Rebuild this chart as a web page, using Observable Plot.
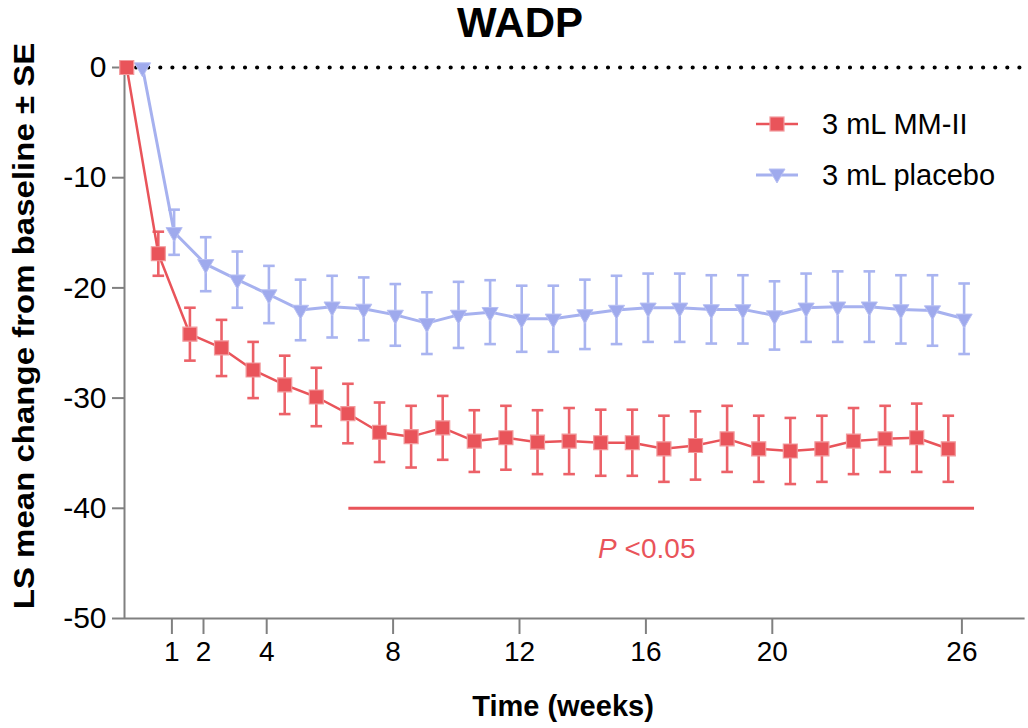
<!DOCTYPE html>
<html><head><meta charset="utf-8">
<script src="https://cdn.jsdelivr.net/npm/d3@7"></script>
<script src="https://cdn.jsdelivr.net/npm/@observablehq/plot@0.6"></script>
<style>
body{margin:0;background:#fff;}
#wrap{position:relative;width:1028px;height:728px;font-family:"Liberation Sans",Arial,sans-serif;color:#000;}
#wrap svg.plot{position:absolute;left:0;top:0;font-family:"Liberation Sans",Arial,sans-serif;}
.title{position:absolute;left:0;width:1040px;top:0;text-align:center;font-weight:bold;font-size:42px;line-height:46px;}
.xlab{position:absolute;left:124px;width:878px;top:690px;text-align:center;font-weight:bold;font-size:29px;line-height:32px;}
.ylab{position:absolute;left:24px;top:326px;transform:translate(-50%,-50%) rotate(-90deg) scaleX(1.1);white-space:nowrap;font-weight:bold;font-size:30px;line-height:32px;}
.leg{position:absolute;left:752px;display:flex;align-items:center;font-size:29px;line-height:30px;}
.leg svg{margin-right:22px;}
</style></head><body><div id="wrap"></div>
<script>
// ---- data ----
const weeks = [0,1,2,3,4,5,6,7,8,9,10,11,12,13,14,15,16,17,18,19,20,21,22,23,24,25,26];
const mmMean = [0,-16.9,-24.2,-25.45,-27.45,-28.8,-29.9,-31.4,-33.1,-33.5,-32.7,-33.9,-33.6,-34.0,-33.9,-34.05,-34.05,-34.6,-34.3,-33.7,-34.6,-34.8,-34.6,-33.9,-33.7,-33.6,-34.6];
const mmSE   = [0,2.0,2.4,2.55,2.55,2.65,2.65,2.7,2.7,2.8,2.9,2.8,2.9,2.9,3.0,3.0,3.0,3.0,3.1,3.0,3.0,3.0,3.0,3.0,3.0,3.1,3.0];
const plMean = [0,-14.95,-17.85,-19.25,-20.6,-22.0,-21.7,-21.9,-22.45,-23.2,-22.45,-22.2,-22.8,-22.8,-22.4,-22.0,-21.8,-21.8,-21.95,-21.95,-22.5,-21.8,-21.7,-21.7,-21.95,-22.05,-22.8];
const plSE   = [0,2.05,2.45,2.55,2.6,2.75,2.8,2.85,2.8,2.8,3.0,2.9,3.0,3.0,3.15,3.1,3.1,3.1,3.1,3.1,3.1,3.1,3.2,3.2,3.1,3.2,3.2];
const seriesNames = ["3 mL MM-II", "3 mL placebo"];
const xTicks = [1,2,4,8,12,16,20,26];
const yTicks = [0,-10,-20,-30,-40,-50];
const sigRange = [{x1: 6.6, x2: 26.4, y: -40}];
const sigLabel = [{x: 15.2, y: -43.7, p: "P", rest: "<0.05"}];
const titleText = "WADP";
const xLabel = "Time (weeks)";
const yLabel = "LS mean change from baseline \u00b1 SE";

// ---- styles ----
const RED = "#E9545A", RED_BAR = "#EC6168", BLUE = "#9FAAED", BLUE_LINE = "#A6B1EF", BLUE_BAR = "#A9B4F0", GRAY = "#808080";
const dodge = {mm: -0.43, pl: 0.07};

const mmRows = weeks.map((w, i) => ({week: w, mean: mmMean[i], se: mmSE[i]}));
const plRows = weeks.map((w, i) => ({week: w, mean: plMean[i], se: plSE[i]}));

const capSymbol = {draw(ctx, size) { const r = Math.sqrt(size / Math.PI); ctx.moveTo(-r, 0); ctx.lineTo(r, 0); }};
const downTriangle = {draw(ctx, size) {
  const s = Math.sqrt(4 * size / Math.sqrt(3)), h = s * Math.sqrt(3) / 2;
  ctx.moveTo(-s / 2, -h / 3); ctx.lineTo(s / 2, -h / 3); ctx.lineTo(0, 2 * h / 3); ctx.closePath();
}};

function seriesMarks(rows, off, lineColor, barColor, lineWidth) {
  const X = d => d.week + off;
  const eb = rows.filter(d => d.se > 0);
  return [
    Plot.ruleX(eb, {x: X, y1: d => d.mean - d.se, y2: d => d.mean + d.se, stroke: barColor, strokeWidth: 2.6}),
    Plot.dot(eb, {x: X, y: d => d.mean + d.se, symbol: capSymbol, r: 5.8, stroke: barColor, strokeWidth: 2.6, fill: "none"}),
    Plot.dot(eb, {x: X, y: d => d.mean - d.se, symbol: capSymbol, r: 5.8, stroke: barColor, strokeWidth: 2.6, fill: "none"}),
    Plot.line(rows, {x: X, y: "mean", stroke: lineColor, strokeWidth: lineWidth})
  ];
}

const chart = Plot.plot({
  width: 1028, height: 728,
  marginLeft: 124, marginRight: 3.4, marginTop: 67, marginBottom: 110,
  x: {domain: [-0.5, 28]},
  y: {domain: [-50, 0]},
  style: {fontFamily: '"Liberation Sans", Arial, sans-serif', color: "#000", background: "transparent"},
  marks: [
    Plot.ruleY([0], {stroke: "#000", strokeWidth: 4.2, strokeDasharray: "0,12.1", strokeLinecap: "round"}),
    Plot.ruleY([-50], {stroke: GRAY, strokeWidth: 2}),
    Plot.ruleX([-0.5], {stroke: GRAY, strokeWidth: 2}),
    Plot.axisX({ticks: xTicks, tickSize: 16, tickPadding: 7, fontSize: 28, tickFormat: d => String(d), label: null, stroke: GRAY, strokeWidth: 2, fill: "#000"}),
    Plot.axisY({ticks: yTicks, tickSize: 12, tickPadding: 6, fontSize: 30, tickFormat: d => String(d), label: null, stroke: GRAY, strokeWidth: 2, fill: "#000"}),
    Plot.ruleY(sigRange, {x1: "x1", x2: "x2", y: "y", stroke: RED, strokeWidth: 3}),
    Plot.text(sigLabel, {x: "x", y: "y", text: "p", fill: RED, fontSize: 28, fontStyle: "italic", textAnchor: "end", dx: -4}),
    Plot.text(sigLabel, {x: "x", y: "y", text: "rest", fill: RED, fontSize: 28, textAnchor: "start", dx: 4}),
    ...seriesMarks(plRows, dodge.pl, BLUE_LINE, BLUE_BAR, 3),
    ...seriesMarks(mmRows, dodge.mm, RED, RED_BAR, 2.5),
    Plot.dot(plRows, {x: d => d.week + dodge.pl, y: "mean", symbol: downTriangle, r: 6, fill: BLUE, stroke: "#B8C0F3", strokeWidth: 1}),
    Plot.dot(mmRows, {x: d => d.week + dodge.mm, y: "mean", symbol: "square", r: 7.9, fill: RED, stroke: "#F29A9D", strokeWidth: 1.2})
  ]
});
chart.classList.add("plot");

const wrap = document.getElementById("wrap");
wrap.appendChild(chart);

function addDiv(cls, text) {
  const el = document.createElement("div");
  el.className = cls; el.textContent = text;
  wrap.appendChild(el); return el;
}
addDiv("title", titleText);
addDiv("xlab", xLabel);
addDiv("ylab", yLabel);

function legendItem(name, top, kind) {
  const el = document.createElement("div");
  el.className = "leg"; el.style.top = (top - 15) + "px";
  const ns = "http://www.w3.org/2000/svg";
  const s = document.createElementNS(ns, "svg");
  s.setAttribute("width", 48); s.setAttribute("height", 30);
  const ln = document.createElementNS(ns, "line");
  ln.setAttribute("x1", 4); ln.setAttribute("x2", 46); ln.setAttribute("y1", 15); ln.setAttribute("y2", 15);
  ln.setAttribute("stroke", kind === "sq" ? RED : BLUE_LINE); ln.setAttribute("stroke-width", kind === "sq" ? 2.5 : 3);
  s.appendChild(ln);
  if (kind === "sq") {
    const r = document.createElementNS(ns, "rect");
    r.setAttribute("x", 18); r.setAttribute("y", 8); r.setAttribute("width", 14); r.setAttribute("height", 14);
    r.setAttribute("fill", RED); r.setAttribute("stroke", "#F29A9D"); r.setAttribute("stroke-width", 1.2);
    s.appendChild(r);
  } else {
    const p = document.createElementNS(ns, "path");
    p.setAttribute("d", "M17,9 L33,9 L25,23 Z");
    p.setAttribute("fill", BLUE); p.setAttribute("stroke", "#B8C0F3"); p.setAttribute("stroke-width", 1);
    s.appendChild(p);
  }
  el.appendChild(s);
  const t = document.createElement("span"); t.textContent = name; el.appendChild(t);
  wrap.appendChild(el);
}
legendItem(seriesNames[0], 124, "sq");
legendItem(seriesNames[1], 175, "tri");
</script></body></html>
